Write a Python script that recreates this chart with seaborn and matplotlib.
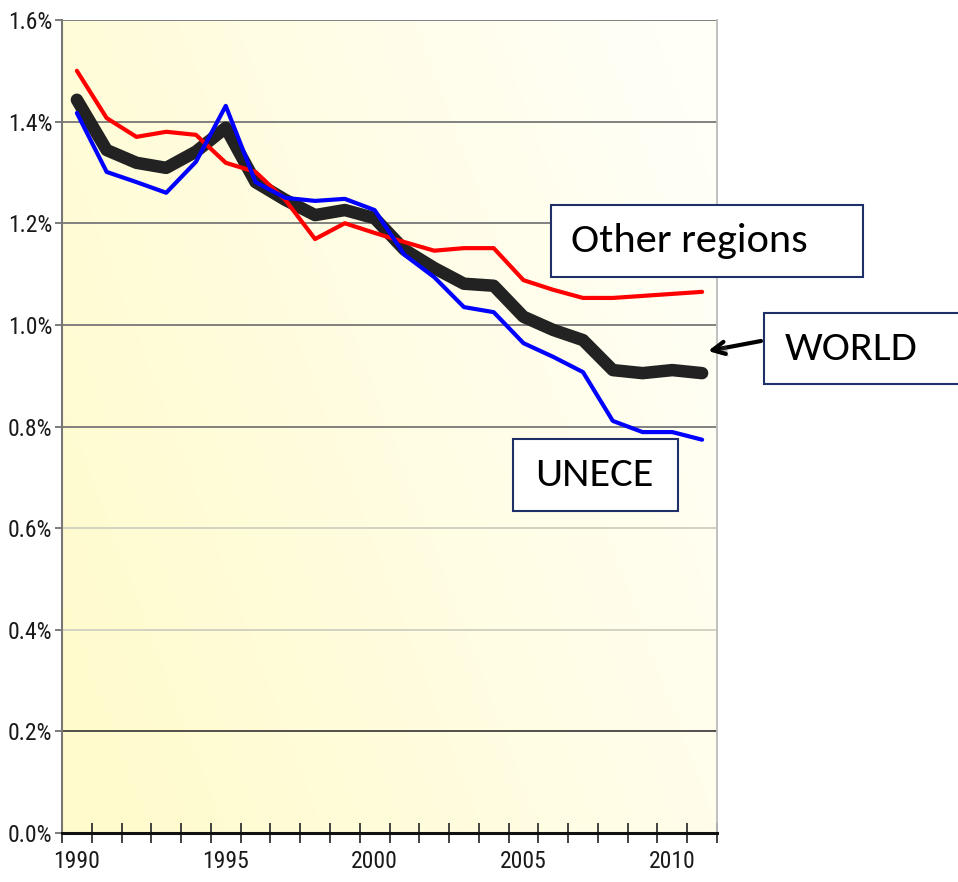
import numpy as np
import pandas as pd
import seaborn as sns
import matplotlib.pyplot as plt
from matplotlib.patches import Rectangle
from matplotlib.ticker import FixedLocator, FuncFormatter
import matplotlib.patheffects as pe

# values in percent
years = list(range(1990, 2012))
other_regions = [1.500, 1.407, 1.370, 1.380, 1.374, 1.319, 1.301, 1.246, 1.169, 1.200, 1.181,
                 1.163, 1.146, 1.151, 1.151, 1.088, 1.069, 1.053, 1.053, 1.057, 1.061, 1.065]
unece = [1.417, 1.301, 1.281, 1.260, 1.321, 1.431, 1.281, 1.250, 1.244, 1.248, 1.226,
         1.138, 1.094, 1.035, 1.025, 0.964, 0.937, 0.907, 0.811, 0.789, 0.789, 0.774]
world = [1.443, 1.344, 1.319, 1.309, 1.341, 1.388, 1.281, 1.246, 1.216, 1.226, 1.210,
         1.148, 1.112, 1.081, 1.077, 1.016, 0.990, 0.970, 0.911, 0.905, 0.911, 0.905]
y_ticks = [0.0, 0.2, 0.4, 0.6, 0.8, 1.0, 1.2, 1.4, 1.6]
x_labels = [1990, 1995, 2000, 2005, 2010]

df = pd.DataFrame({'year': years, 'other': other_regions, 'unece': unece, 'world': world})

sns.set_style('white')
tick_font = ['Liberation Sans Narrow', 'Roboto Condensed', 'Arimo', 'Liberation Sans', 'DejaVu Sans']
label_font = ['Carlito', 'Lato', 'DejaVu Sans']
plt.rcParams['font.family'] = tick_font
plt.rcParams['text.color'] = 'black'
plt.rcParams['xtick.color'] = 'black'
plt.rcParams['ytick.color'] = 'black'

fig = plt.figure(figsize=(9.58, 8.82), dpi=100)
ax = fig.add_axes([62/958, 1 - 833/882, (717 - 62)/958, (833 - 20)/882])

# yellow to white background
g = np.linspace(0, 1, 200)
gx, gy = np.meshgrid(g, g)
t = np.clip((gx * 0.75 + (1 - gy) * 0.35) - 0.05, 0, 1)
c0 = np.array([255, 251, 204]) / 255
c1 = np.array([255, 255, 248]) / 255
img = c0[None, None, :] * (1 - t[..., None]) + c1[None, None, :] * t[..., None]
ax.imshow(img, extent=[0, 1, 0, 1], transform=ax.transAxes, aspect='auto', zorder=0)

sns.lineplot(data=df, x='year', y='world', ax=ax, color='#222222', lw=9,
             solid_capstyle='round', solid_joinstyle='round', zorder=3)
sns.lineplot(data=df, x='year', y='other', ax=ax, color='#ff0000', lw=3,
             solid_joinstyle='round', zorder=4)
sns.lineplot(data=df, x='year', y='unece', ax=ax, color='#0000ff', lw=3,
             solid_joinstyle='round', zorder=5)

ax.set_xlim(1989.5, 2011.5)
ax.set_ylim(0, 1.6)
ax.set_xlabel('')
ax.set_ylabel('')

ax.yaxis.set_major_locator(FixedLocator(y_ticks))
ax.yaxis.set_major_formatter(FuncFormatter(lambda v, p: '%.1f%%' % v))
ax.xaxis.set_major_locator(FixedLocator(x_labels))
ax.xaxis.set_minor_locator(FixedLocator(np.arange(1989.5, 2012, 1.0)))
ax.tick_params(axis='y', which='major', length=5, width=1.2, color='#666666',
               labelsize=17, pad=2, left=True, labelcolor='#1a1a1a')
ax.tick_params(axis='x', which='major', length=0, labelsize=17, pad=12, labelcolor='#1a1a1a')
ax.tick_params(axis='x', which='minor', direction='inout', length=14, width=1.3,
               color='#333333', bottom=True)

ax.grid(axis='y', zorder=1)
for v, gl in zip(y_ticks, ax.get_ygridlines()):
    if v >= 0.8:
        gl.set_color('#777777'); gl.set_linewidth(1.3)
    elif v >= 0.4:
        gl.set_color('#cfcfc0'); gl.set_linewidth(1.3)
    else:
        gl.set_color('#333333'); gl.set_linewidth(1.2)

ax.spines['top'].set_visible(False)
ax.spines['left'].set_color('#777777')
ax.spines['left'].set_linewidth(1.5)
ax.spines['right'].set_color('#bbbbbb')
ax.spines['right'].set_linewidth(1.3)
ax.spines['bottom'].set_color('#111111')
ax.spines['bottom'].set_linewidth(2.2)

# label boxes
W, H = 958.0, 882.0
def box(x0, y0, x1, y1, label, tx):
    fig.add_artist(Rectangle((x0/W, 1 - y1/H), (x1 - x0)/W, (y1 - y0)/H,
                             transform=fig.transFigure, facecolor='white',
                             edgecolor='#1f2f6a', lw=1.5, zorder=10))
    fig.text(tx/W, 1 - (y0 + y1)/2/H, label, fontsize=30.5, family=label_font,
             color='black', va='center', ha='left', zorder=11)

box(551, 205, 863, 277, 'Other regions', 571)
box(764, 313, 970, 384, 'WORLD', 785)
box(513, 439, 678, 511, 'UNECE', 535)

fig.add_artist(plt.Annotation('', xy=(708/W, 1 - 351/H), xytext=(761/W, 1 - 341/H),
                              xycoords='figure fraction', textcoords='figure fraction',
                              arrowprops=dict(arrowstyle='->', lw=3, color='black',
                                              mutation_scale=22, shrinkA=0, shrinkB=0,
                                              path_effects=[pe.SimplePatchShadow(offset=(2, -2), alpha=0.4), pe.Normal()])))

fig.savefig('out.png', dpi=100)
